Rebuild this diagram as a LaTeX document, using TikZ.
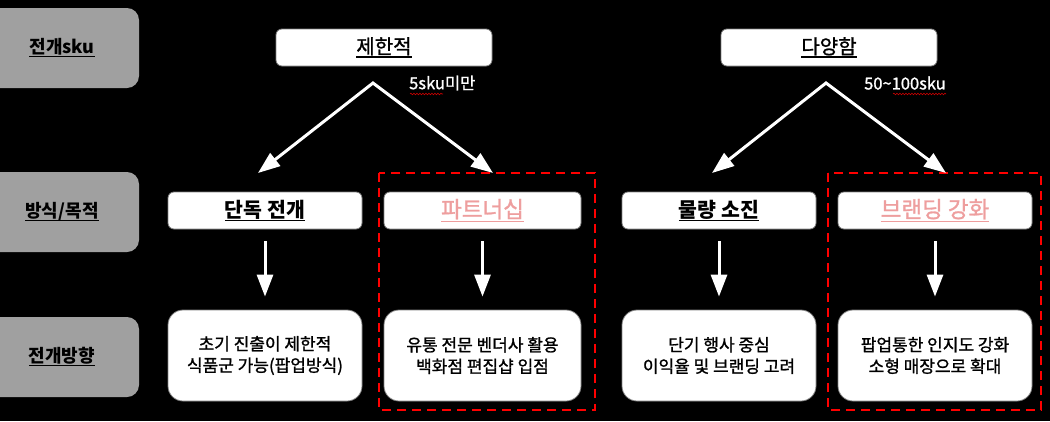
\documentclass[tikz,border=0pt]{standalone}
\usepackage{fontspec}
\setmainfont{Noto Sans CJK KR}
\newfontfamily\medfont{Noto Sans CJK KR}[FakeBold=1.2]
\usetikzlibrary{arrows.meta,decorations.pathmorphing}
\definecolor{lblgray}{HTML}{A0A0A0}
\definecolor{pinktxt}{HTML}{EE9E9E}
\definecolor{boxline}{HTML}{808080}
\newcommand\myul[1]{\setbox0\hbox{#1}\rlap{\rule[-0.2em]{\wd0}{1.5pt}}\box0}
\tikzset{
  lblbox/.style={fill=lblgray, rounded corners=12pt, minimum width=154pt, minimum height=80pt, inner sep=0pt, font=\fontsize{18}{21}\selectfont\bfseries, text=black},
  topbox/.style={fill=white, draw=boxline, line width=0.8pt, rounded corners=6pt, minimum width=216pt, minimum height=37pt, inner sep=0pt, font=\fontsize{20}{23}\selectfont\medfont, text=black},
  midbox/.style={fill=white, draw=boxline, line width=0.8pt, rounded corners=6pt, minimum width=194pt, minimum height=37pt, inner sep=0pt, font=\fontsize{20.5}{24}\selectfont\bfseries, text=black},
  pinkbox/.style={midbox, font=\fontsize{22.5}{26}\selectfont\medfont, text=pinktxt},
  botbox/.style={fill=white, draw=boxline, line width=0.8pt, rounded corners=15pt, minimum width=194pt, minimum height=91pt, inner sep=0pt, align=center, font=\fontsize{17}{21.5}\selectfont\medfont, text=black},
  wht/.style={draw=white, line width=3pt, -{Triangle[width=16pt,length=22pt]}},
  whtboth/.style={draw=white, line width=3pt, {Triangle[width=16pt,length=22pt]}-{Triangle[width=16pt,length=22pt]}},
  lbltxt/.style={text=white, inner sep=0pt, font=\fontsize{16.5}{19}\selectfont\medfont},
  reddash/.style={draw=red, line width=2.5pt, dash pattern=on 9pt off 6pt},
  squig/.style={draw=red!80!black, line width=0.6pt, decorate, decoration={snake, amplitude=0.8pt, segment length=3pt}}
}
\begin{document}
\begin{tikzpicture}[x=1pt,y=-1pt]
\fill[black] (0,0) rectangle (1050,421);
\useasboundingbox (0,0) rectangle (1050,421);

% left labels
\node[lblbox] (L1) at (62,48) {\myul{전개sku}};
\node[lblbox] (L2) at (62,212) {\myul{방식/목적}};
\node[lblbox] (L3) at (62,357) {\myul{전개방향}};

% dashed frames
\draw[reddash] (379,173) rectangle (595,410);
\draw[reddash] (828,173) rectangle (1041,410);

% top boxes
\node[topbox] (T1) at (384,47.5) {\myul{제한적}};
\node[topbox] (T2) at (829,47.5) {\myul{다양함}};

% labels of branches
\node[lbltxt, anchor=west] (S1) at (409,83) {5sku미만};
\node[lbltxt, anchor=west] (S2) at (864,83) {50\textasciitilde100sku};
\draw[squig] (410,94) -- (443,94);
\draw[squig] (893,94) -- (946,94);

% branching arrows
\coordinate (A1) at (373,83);
\coordinate (A1L) at (258,173);
\coordinate (A1R) at (493,173);
\coordinate (A2) at (826,83);
\coordinate (A2L) at (712,173);
\coordinate (A2R) at (946,173);
\draw[whtboth] (A1L) -- (A1) -- (A1R);
\draw[whtboth] (A2L) -- (A2) -- (A2R);

% middle boxes
\node[midbox] (M1) at (265,210.5) {\myul{단독 전개}};
\node[pinkbox, minimum width=197pt] (M2) at (482.5,210.5) {\myul{파트너십}};
\node[midbox] (M3) at (719,210.5) {\myul{물량 소진}};
\node[pinkbox] (M4) at (935,210.5) {\myul{브랜딩 강화}};

% bottom boxes
\node[botbox] (B1) at (265,355.5) {초기 진출이 제한적\\식품군 가능(팝업방식)};
\node[botbox, minimum width=197pt] (B2) at (482.5,355.5) {유통 전문 벤더사 활용\\백화점 편집샵 입점};
\node[botbox] (B3) at (719,355.5) {단기 행사 중심\\이익율 및 브랜딩 고려};
\node[botbox] (B4) at (935,355.5) {팝업통한 인지도 강화\\소형 매장으로 확대};

% vertical arrows
\foreach \m/\b in {M1/B1,M2/B2,M3/B3,M4/B4}
  \draw[wht, shorten <=12pt, shorten >=13pt] (\m) -- (\b);
\end{tikzpicture}
\end{document}
